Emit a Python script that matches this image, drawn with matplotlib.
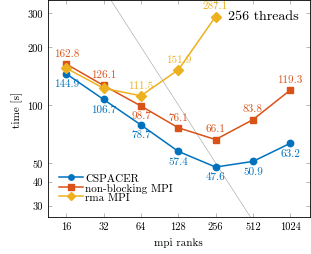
import matplotlib
matplotlib.use("Agg")
from matplotlib import pyplot as plt
from matplotlib.ticker import FixedLocator, NullLocator, FixedFormatter

plt.rcParams['font.family'] = 'serif'
plt.rcParams['font.serif'] = ['cmr10', 'DejaVu Serif']
plt.rcParams['mathtext.fontset'] = 'cm'
plt.rcParams['axes.formatter.use_mathtext'] = True

ranks = [16, 32, 64, 128, 256, 512, 1024]
cspacer = [144.9, 106.7, 78.7, 57.4, 47.6, 50.9, 63.2]
nonblocking = [162.8, 126.1, 98.7, 76.1, 66.1, 83.8, 119.3]
nonblocking_below = [False, False, True, False, False, False, False]
rma_ranks = [16, 32, 64, 128, 256]
rma = [155.0, 122.0, 111.5, 151.9, 287.1]
rma_labeled = [False, False, True, True, True]

# ideal scaling reference line
ideal_x = [8, 2048]
ideal_y = [1600.0, 6.25]

yticks = [30, 40, 50, 100, 200, 300]

blue = "#0072BD"
orange = "#D95319"
yellow = "#EDB120"

fig = plt.figure(figsize=(3.11, 2.55), dpi=100)
ax = fig.add_axes([0.153, 0.145, 0.844, 0.851])

ax.plot(ideal_x, ideal_y, color="#b0b0b0", lw=0.5, zorder=1)

ax.plot(ranks, cspacer, color=blue, marker="o", ms=4.6, lw=1.1, label="CSPACER", zorder=3)
ax.plot(ranks, nonblocking, color=orange, marker="s", ms=4.6, lw=1.1, label="non-blocking MPI", zorder=3)
ax.plot(rma_ranks, rma, color=yellow, marker="D", ms=4.6, lw=1.1, label="rma MPI", zorder=4)

for x, y in zip(ranks, cspacer):
    ax.annotate(f"{y}", (x, y), xytext=(0, -3.5), textcoords="offset points",
                ha="center", va="top", fontsize=8, color=blue)
for x, y, below in zip(ranks, nonblocking, nonblocking_below):
    if below:
        ax.annotate(f"{y}", (x, y), xytext=(0, -3.5), textcoords="offset points",
                    ha="center", va="top", fontsize=8, color=orange)
    else:
        ax.annotate(f"{y}", (x, y), xytext=(0, 4.5), textcoords="offset points",
                    ha="center", va="bottom", fontsize=8, color=orange)
for x, y, show in zip(rma_ranks, rma, rma_labeled):
    if show:
        ax.annotate(f"{y}", (x, y), xytext=(0, 4.5), textcoords="offset points",
                    ha="center", va="bottom", fontsize=8, color=yellow)

ax.set_xscale("log", base=2)
ax.set_yscale("log")
ax.set_xlim(11.3, 1480)
ax.set_ylim(26.2, 350)

ax.xaxis.set_major_locator(FixedLocator(ranks))
ax.xaxis.set_major_formatter(FixedFormatter([str(r) for r in ranks]))
ax.xaxis.set_minor_locator(NullLocator())
ax.yaxis.set_major_locator(FixedLocator(yticks))
ax.yaxis.set_major_formatter(FixedFormatter([str(t) for t in yticks]))
ax.yaxis.set_minor_locator(NullLocator())

ax.tick_params(direction="in", top=True, right=True, labelsize=7.5, length=3,
               width=0.4, color="#808080")
for s in ax.spines.values():
    s.set_linewidth(0.6)

ax.set_xlabel("mpi ranks", fontsize=8, labelpad=4)
ax.set_ylabel("time [s]", fontsize=8, labelpad=3)

ax.text(0.955, 0.955, "256 threads", transform=ax.transAxes, ha="right", va="top", fontsize=10)

ax.legend(loc="lower left", frameon=False, fontsize=8, handlelength=2.2,
          handletextpad=0.2, labelspacing=-0.07, borderaxespad=0.6,
          markerscale=0.85, bbox_to_anchor=(0.0, 0.02))

fig.savefig("out.png", dpi=100)
